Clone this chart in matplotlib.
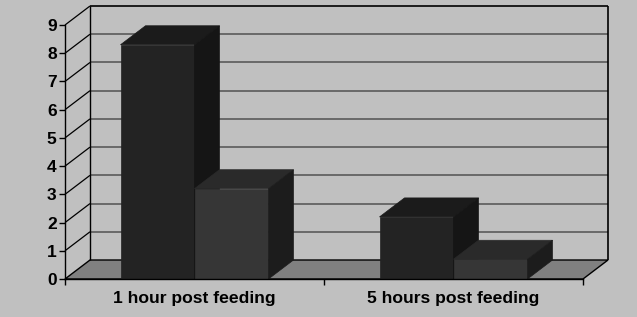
import matplotlib
matplotlib.use("Agg")
import matplotlib.pyplot as plt
from matplotlib.patches import Polygon

categories = ["1 hour post feeding", "5 hours post feeding"]
series_a = [8.3, 2.2]
series_b = [3.2, 0.7]
y_ticks = list(range(0, 10))

# fake 3d look: depth offset in data units
DX = 0.0965
DY = 0.673
BAR_W = 0.2857

plt.rcParams['font.family'] = ['Liberation Sans', 'DejaVu Sans']
plt.rcParams['font.weight'] = 'bold'

fig = plt.figure(figsize=(6.37, 3.17), dpi=100, facecolor='#c0c0c0')
ax = fig.add_axes([65 / 637, 38 / 317, 518 / 637, 254 / 317])
ax.set_facecolor('none')
ax.set_xlim(-0.5, len(categories) - 0.5)
ax.set_ylim(0, max(y_ticks))
x0, x1 = ax.get_xlim()
ymax = max(y_ticks)


def poly(pts, fc, ec, z, lw=0.8):
    ax.add_patch(Polygon(pts, closed=True, facecolor=fc, edgecolor=ec,
                         linewidth=lw, zorder=z, clip_on=False))


def line(xs, ys, color, z, lw=1.0):
    ax.plot(xs, ys, color=color, linewidth=lw, zorder=z, clip_on=False,
            solid_capstyle='butt')


# floor
poly([(x0, 0), (x1, 0), (x1 + DX, DY), (x0 + DX, DY)], '#808080', 'black', 1, 1.0)

# back wall gridlines and side wall diagonals
for v in y_ticks[1:]:
    if v < ymax:
        line([x0 + DX, x1 + DX], [v + DY, v + DY], '#5a5a5a', 1.5, 1.2)
    line([x0, x0 + DX], [v, v + DY], 'black', 1.5, 0.9)

# wall outline
line([x0 + DX, x0 + DX], [DY, ymax + DY], 'black', 1.6, 1.0)
line([x0 + DX, x1 + DX], [ymax + DY, ymax + DY], 'black', 1.6, 1.2)
line([x1 + DX, x1 + DX], [DY, ymax + DY], 'black', 1.6, 1.2)


def bar3d(xl, h, front, top, side):
    xr = xl + BAR_W
    poly([(xl, 0), (xr, 0), (xr, h), (xl, h)], front, front, 3, 0.5)
    poly([(xl, h), (xr, h), (xr + DX, h + DY), (xl + DX, h + DY)], top, top, 3, 0.5)
    poly([(xr, 0), (xr + DX, DY), (xr + DX, h + DY), (xr, h)], side, side, 3, 0.5)


for i in range(len(categories)):
    bar3d(i - BAR_W, series_a[i], '#232323', '#1b1b1b', '#151515')
    bar3d(i, series_b[i], '#363636', '#2a2a2a', '#1c1c1c')

# axes
for s in ['top', 'right']:
    ax.spines[s].set_visible(False)
ax.spines['left'].set_linewidth(1.0)
ax.spines['bottom'].set_linewidth(1.0)
ax.spines['left'].set_zorder(5)
ax.spines['bottom'].set_zorder(5)

ax.set_yticks(y_ticks)
ax.set_yticklabels([str(v) for v in y_ticks], fontsize=12.5, fontweight='bold')
ax.tick_params(axis='y', length=4, width=1, pad=2, colors='black')

ax.set_xticks(range(len(categories)))
ax.set_xticklabels(categories, fontsize=12.6, fontweight='bold')
ax.set_xticks([x0 + k for k in range(len(categories) + 1)], minor=True)
ax.tick_params(axis='x', which='major', length=0, pad=8.5)
ax.tick_params(axis='x', which='minor', length=4, width=1)

fig.savefig('out.png', dpi=100, facecolor=fig.get_facecolor())
